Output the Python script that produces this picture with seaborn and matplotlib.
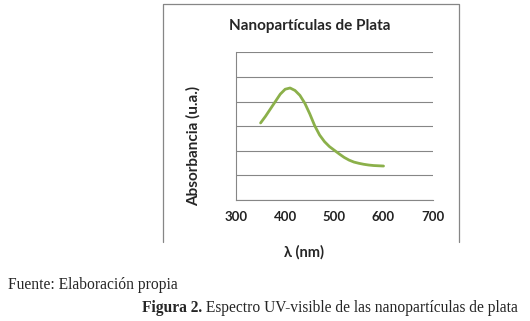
import numpy as np
import pandas as pd
import seaborn as sns
import matplotlib.pyplot as plt
from matplotlib.lines import Line2D

# wavelength (nm) vs absorbance (grid units, no y labels in original)
wavelength = [350, 360, 370, 380, 390, 400, 410, 420, 430, 440, 450, 460, 470,
              480, 490, 500, 510, 520, 530, 540, 550, 560, 570, 580, 590, 600]
absorbance = [3.13, 3.40, 3.70, 4.00, 4.30, 4.50, 4.55, 4.45, 4.25, 3.93, 3.50, 3.02, 2.64,
              2.37, 2.17, 2.02, 1.87, 1.73, 1.62, 1.54, 1.49, 1.45, 1.42, 1.40, 1.39, 1.38]
x_ticks = [300, 400, 500, 600, 700]

df = pd.DataFrame({"wl": wavelength, "abs": absorbance})

sns.set_style("white")
plt.rcParams['font.family'] = ['Lato', 'DejaVu Sans']

W, H = 530, 321
fig = plt.figure(figsize=(W / 100, H / 100), dpi=100)
ax = fig.add_axes([236 / W, 1 - 200 / H, (432.7 - 236) / W, (200 - 52.3) / H])

sns.lineplot(data=df, x="wl", y="abs", ax=ax, color="#8BB04A", linewidth=2.0)

grey = "#868686"
ax.set_xlim(300, 700)
ax.set_ylim(0, 6)
ax.set_xticks(x_ticks)
ax.set_yticks(range(0, 7))
ax.set_yticklabels([])
ax.grid(axis="y", color=grey, linewidth=0.8)
ax.set_axisbelow(True)
for s in ["top", "right"]:
    ax.spines[s].set_visible(False)
for s in ["left", "bottom"]:
    ax.spines[s].set_color(grey)
    ax.spines[s].set_linewidth(0.8)
ax.tick_params(axis="both", direction="out", length=4, width=0.8, color=grey,
               labelsize=9.5, labelcolor="#222222")
ax.tick_params(axis="x", pad=4)
for lab in ax.get_xticklabels():
    lab.set_fontweight("bold")
ax.set_xlabel("")
ax.set_ylabel("")

# chart title and axis labels
fig.text(310 / W, 1 - 26 / H, "Nanopartículas de Plata", ha="center", va="center",
         fontsize=11, fontweight="bold")
fig.text(193 / W, 1 - 145.5 / H, "Absorbancia (u.a.)", ha="center", va="center",
         rotation=90, fontsize=11, fontweight="bold")
fig.text(304 / W, 1 - 252 / H, "λ (nm)", ha="center", va="center",
         fontsize=10.5, fontweight="bold")

# chart frame (bottom edge cut off in the original)
fx = [163.3 / W, 163.3 / W, 458.7 / W, 458.7 / W]
fy = [1 - 242 / H, 1 - 4.3 / H, 1 - 4.3 / H, 1 - 242 / H]
fig.add_artist(Line2D(fx, fy, transform=fig.transFigure, color=grey, linewidth=0.9))

# captions
fig.text(8 / W, 1 - 285 / H, "Fuente: Elaboración propia", ha="left", va="center",
         fontsize=11.2, family="Liberation Serif")
t1 = fig.text(141.7 / W, 1 - 308 / H, "Figura 2.", ha="left", va="center",
              fontsize=11.2, family="Liberation Serif", fontweight="bold")
fig.canvas.draw()
bb = t1.get_window_extent()
x_end = fig.transFigure.inverted().transform((bb.x1, bb.y0))[0]
fig.text(x_end, 1 - 308 / H, " Espectro UV-visible de las nanopartículas de plata",
         ha="left", va="center", fontsize=11.2, family="Liberation Serif")

fig.savefig("out.png", dpi=100, facecolor="white")
